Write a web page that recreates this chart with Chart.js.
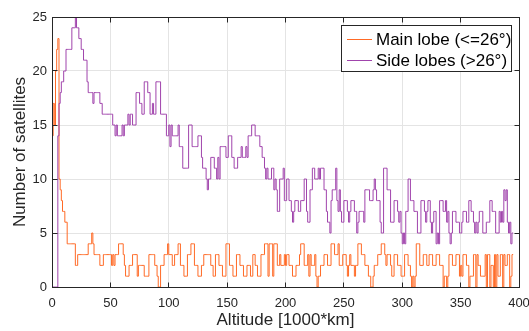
<!DOCTYPE html>
<html>
<head>
<meta charset="utf-8">
<script src="https://cdn.jsdelivr.net/npm/chart.js@4.4.1/dist/chart.umd.min.js"></script>
<style>
  html, body { margin: 0; padding: 0; background: #fff; }
  #wrap { width: 529px; height: 331px; }
</style>
</head>
<body>
<div id="wrap"><canvas id="chart" width="529" height="331"></canvas></div>
<script>
// bin width of the histogram, in 1000 km
const binWidth = 1;

// Main lobe (<=26 deg), one value per bin starting at 0
const mainLobe = [
  14,17,15,20,22,23,10,9,8,7,
  7,6,6,4,4,4,4,4,4,4,
  2,2,3,3,3,3,3,3,3,3,
  3,4,4,4,5,4,3,3,3,3,
  3,2,2,2,3,3,3,3,3,3,
  3,2,3,2,3,3,3,4,4,4,
  4,3,2,1,1,1,2,2,2,3,
  3,3,3,1,2,2,2,2,2,1,
  1,1,1,3,3,3,3,3,2,2,
  1,0,0,2,2,2,3,3,3,4,
  3,3,3,2,2,3,3,3,4,4,
  2,2,2,1,1,1,3,3,3,4,
  4,4,2,2,2,1,1,1,2,2,
  3,3,3,3,3,3,2,2,1,1,
  3,3,3,2,2,2,1,1,1,4,
  4,4,2,2,2,1,1,1,3,3,
  3,2,2,2,1,1,1,2,2,2,
  1,1,3,3,2,2,1,1,1,3,
  3,3,4,4,4,1,4,4,4,1,
  4,4,4,2,2,3,2,2,2,3,
  2,3,3,2,2,2,1,1,1,2,
  2,2,3,4,4,4,2,2,2,3,
  1,3,2,2,2,3,1,0,1,1,
  2,2,2,3,3,3,2,2,2,4,
  4,4,3,3,3,4,2,2,2,3,
  3,3,2,1,2,3,2,2,2,1,
  2,2,4,4,4,3,3,3,2,2,
  2,1,1,0,0,1,2,2,2,3,
  3,3,4,4,4,3,2,3,3,3,
  2,1,1,3,3,3,2,2,2,1,
  1,1,3,3,3,2,2,1,0,1,
  0,1,4,4,4,2,2,2,3,3,
  3,2,2,3,3,3,2,2,2,3,
  3,3,2,2,2,0,1,1,0,1,
  3,3,3,2,2,2,3,3,3,1,
  2,1,3,3,3,2,2,0,1,1,
  1,3,3,0,3,2,2,1,1,1,
  1,3,0,3,3,0,2,2,0,3,
  0,3,1,1,3,3,0,3,2,2,
  3,3,0,1,3
];

// Side lobes (>26 deg)
const sideLobes = [
  0,0,0,0,0,14,17,18,19,19,
  20,20,22,22,22,22,22,24,24,24,
  25,24,24,23,23,22,22,21,21,21,
  19,18,18,18,18,17,18,18,18,18,
  18,17,17,16,16,16,16,16,16,16,
  16,16,15,15,14,15,14,14,14,14,
  15,14,15,15,15,16,15,16,16,15,
  15,15,18,18,18,17,17,16,16,19,
  19,19,18,18,16,16,17,16,16,19,
  19,19,19,16,16,16,16,16,14,14,
  15,13,15,14,14,14,14,14,15,13,
  13,13,11,11,11,11,11,15,15,15,
  13,13,13,13,13,14,14,14,12,11,
  11,11,10,9,10,10,12,12,12,11,
  11,10,12,10,13,13,13,13,13,12,
  12,14,14,14,12,12,11,11,11,12,
  12,12,13,12,12,12,13,12,14,14,
  14,15,15,15,14,14,14,14,13,13,
  12,12,11,10,11,10,10,10,11,11,
  9,10,9,7,7,10,10,10,11,8,
  8,10,10,8,8,7,6,7,8,8,
  8,7,7,8,8,8,10,10,7,6,
  6,9,9,11,11,10,10,10,11,10,
  11,11,11,9,9,7,6,6,5,8,
  9,9,9,11,8,7,9,7,6,6,
  8,8,8,7,6,7,8,8,8,7,
  7,5,6,7,7,7,7,6,9,9,
  9,9,8,8,8,9,10,9,8,8,
  8,6,5,5,11,11,11,9,9,9,
  6,6,6,8,8,8,7,6,7,5,
  4,5,4,7,7,10,10,8,8,8,
  7,7,7,5,5,5,8,8,8,7,
  6,7,8,8,6,5,6,7,7,4,
  5,4,8,8,8,7,7,8,6,7,
  5,4,5,7,7,7,6,6,6,5,
  5,6,7,7,7,6,6,8,8,7,
  7,6,5,6,5,6,7,7,7,5,
  5,5,6,6,6,8,8,7,7,7,
  5,5,5,7,6,7,6,9,8,9,
  6,5,6,4,5
];

const xTicks = [0, 50, 100, 150, 200, 250, 300, 350, 400];
const yTicks = [0, 5, 10, 15, 20, 25];
const seriesNames = ['Main lobe (<=26°)', 'Side lobes (>26°)'];
const seriesColors = ['#ff6a26', '#a044ac'];

const textColor = '#262626';
Chart.defaults.font.family = "'Liberation Sans', Arial, Helvetica, sans-serif";
Chart.defaults.color = textColor;

// histogram "stairs": start from 0 at the left edge, close the last bin on the right
function toStairs(values) {
  const pts = [{ x: 0, y: 0 }];
  values.forEach((v, i) => pts.push({ x: i * binWidth, y: v }));
  pts.push({ x: values.length * binWidth, y: values[values.length - 1] });
  return pts;
}

// axes box with inward ticks, plus the legend inside the plot (MATLAB look)
const boxPlugin = {
  id: 'box',
  afterDraw(chart) {
    const { ctx, chartArea: a, scales } = chart;
    const L = Math.floor(a.left) + 0.5, R = Math.floor(a.right) + 0.5;
    const T = Math.floor(a.top) + 0.5, B = Math.floor(a.bottom) + 0.5;
    ctx.save();
    ctx.strokeStyle = '#262626';
    ctx.lineWidth = 1;
    ctx.strokeRect(L, T, R - L, B - T);
    ctx.beginPath();
    xTicks.forEach(v => {
      const px = Math.floor(scales.x.getPixelForValue(v)) + 0.5;
      ctx.moveTo(px, B); ctx.lineTo(px, B - 5);
      ctx.moveTo(px, T); ctx.lineTo(px, T + 5);
    });
    yTicks.forEach(v => {
      const py = Math.floor(scales.y.getPixelForValue(v)) + 0.5;
      ctx.moveTo(L, py); ctx.lineTo(L + 5, py);
      ctx.moveTo(R, py); ctx.lineTo(R - 5, py);
    });
    ctx.stroke();

    // legend
    const lx = 341.5, ly = 25.5, lw = 170, lh = 46;
    ctx.fillStyle = '#fff';
    ctx.fillRect(lx, ly, lw, lh);
    ctx.strokeRect(lx, ly, lw, lh);
    ctx.font = "17px 'Liberation Sans', Arial, sans-serif";
    ctx.textBaseline = 'middle';
    seriesNames.forEach((name, i) => {
      const y = 39.5 + i * 21;
      ctx.strokeStyle = seriesColors[i];
      ctx.beginPath();
      ctx.moveTo(347, y); ctx.lineTo(372, y);
      ctx.stroke();
      ctx.fillStyle = '#000';
      ctx.fillText(name, 376, y + 0.5);
    });
    ctx.restore();
  }
};

new Chart(document.getElementById('chart'), {
  type: 'line',
  data: {
    datasets: [
      {
        label: seriesNames[0],
        data: toStairs(mainLobe),
        borderColor: seriesColors[0],
        borderWidth: 1,
        pointRadius: 0,
        stepped: 'before',
        fill: false,
        order: 2
      },
      {
        label: seriesNames[1],
        data: toStairs(sideLobes),
        borderColor: seriesColors[1],
        borderWidth: 1,
        pointRadius: 0,
        stepped: 'before',
        fill: false,
        order: 1
      }
    ]
  },
  options: {
    responsive: false,
    animation: false,
    devicePixelRatio: 1,
    layout: { padding: { top: 17, right: 10, left: 0, bottom: 0 } },
    plugins: { legend: { display: false }, tooltip: { enabled: false } },
    scales: {
      x: {
        type: 'linear',
        min: 0,
        max: 400,
        afterBuildTicks: s => { s.ticks = xTicks.map(v => ({ value: v })); },
        afterFit: s => { s.height = 44; s.paddingLeft = 0; s.paddingRight = 0; },
        grid: { color: '#e4e4e4', drawTicks: false },
        border: { display: false },
        ticks: { padding: 9, maxRotation: 0, font: { size: 13 }, color: textColor },
        title: { display: true, text: 'Altitude [1000*km]', font: { size: 17 }, color: textColor, padding: 0 }
      },
      y: {
        min: 0,
        max: 25,
        afterBuildTicks: s => { s.ticks = yTicks.map(v => ({ value: v })); },
        afterFit: s => { s.width = 52; s.paddingTop = 0; s.paddingBottom = 0; },
        grid: { color: '#e4e4e4', drawTicks: false },
        border: { display: false },
        ticks: { padding: 5, font: { size: 13 }, color: textColor },
        title: { display: true, text: 'Number of satellites', font: { size: 17 }, color: textColor, padding: { top: 10 } }
      }
    }
  },
  plugins: [boxPlugin]
});
</script>
</body>
</html>
